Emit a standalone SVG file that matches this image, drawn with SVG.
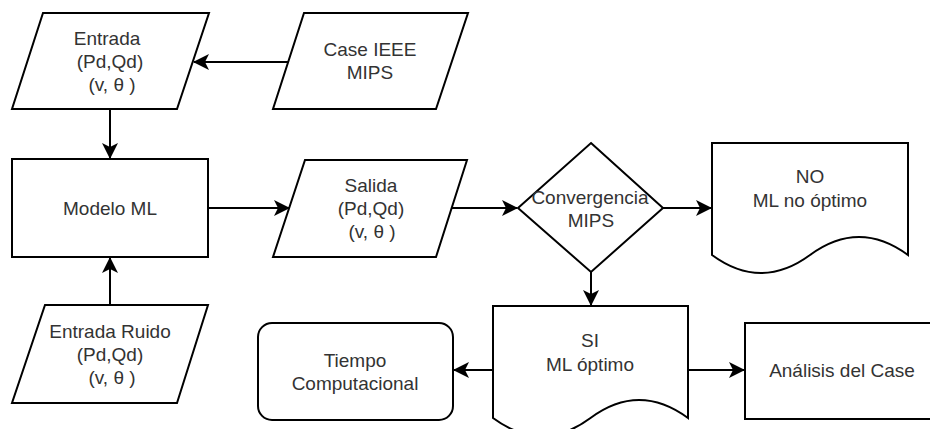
<svg xmlns="http://www.w3.org/2000/svg" width="930" height="429" viewBox="0 0 930 429">
  <style>
    .shape { fill: #ffffff; stroke: #000000; stroke-width: 2; }
    .edge { fill: none; stroke: #000000; stroke-width: 2; }
    text { font-family: "Liberation Sans", Arial, sans-serif; font-size: 19px; fill: #333333; text-anchor: middle; }
  </style>
  <defs>
    <marker id="arrow" markerUnits="userSpaceOnUse" viewBox="0 0 16 16" markerWidth="16" markerHeight="16" refX="15" refY="8" orient="auto">
      <path d="M0,0 L16,8 L0,16 L4,8 Z" fill="#000000"/>
    </marker>
  </defs>

  <rect width="930" height="429" fill="#ffffff"/>

  <!-- connectors -->
  <g id="connectors">
    <line class="edge" x1="288" y1="62" x2="194" y2="62" marker-end="url(#arrow)"/>
    <line class="edge" x1="110" y1="109" x2="110" y2="158" marker-end="url(#arrow)"/>
    <line class="edge" x1="110" y1="305" x2="110" y2="258" marker-end="url(#arrow)"/>
    <line class="edge" x1="208" y1="208" x2="289" y2="208" marker-end="url(#arrow)"/>
    <line class="edge" x1="452" y1="208" x2="517" y2="208" marker-end="url(#arrow)"/>
    <line class="edge" x1="663" y1="208" x2="711" y2="208" marker-end="url(#arrow)"/>
    <line class="edge" x1="591" y1="272" x2="591" y2="305" marker-end="url(#arrow)"/>
    <line class="edge" x1="493" y1="370" x2="454" y2="370" marker-end="url(#arrow)"/>
    <line class="edge" x1="688" y1="370" x2="744" y2="370" marker-end="url(#arrow)"/>
  </g>

  <!-- input: Entrada -->
  <g id="entrada">
    <polygon class="shape" points="43,13 209,13 177,109 12,109"/>
    <text x="107" y="45">Entrada</text>
    <text x="110" y="68">(Pd,Qd)</text>
    <text x="112" y="91">(v, θ )</text>
  </g>

  <!-- input: Case IEEE -->
  <g id="case-ieee">
    <polygon class="shape" points="304,13 468,13 436,109 273,109"/>
    <text x="370" y="56">Case IEEE</text>
    <text x="370" y="79">MIPS</text>
  </g>

  <!-- ML model -->
  <g id="modelo-ml">
    <rect class="shape" x="12" y="159" width="196" height="98"/>
    <text x="110" y="215">Modelo ML</text>
  </g>

  <!-- output: Salida -->
  <g id="salida">
    <polygon class="shape" points="305,160 467,160 436,257 273,257"/>
    <text x="371" y="192">Salida</text>
    <text x="371" y="215">(Pd,Qd)</text>
    <text x="372" y="238">(v, θ )</text>
  </g>

  <!-- decision: convergence -->
  <g id="convergencia">
    <polygon class="shape" points="591,143 663,208 591,272 518,208"/>
    <text x="590" y="204">Convergencia</text>
    <text x="591" y="227">MIPS</text>
  </g>

  <!-- document: NO -->
  <g id="no-optimo">
    <path class="shape" d="M712,143 L908,143 L908,255 Q859,219 810,255 Q761,291 712,255 Z"/>
    <text x="810" y="183">NO</text>
    <text x="810" y="207">ML no óptimo</text>
  </g>

  <!-- noisy input -->
  <g id="entrada-ruido">
    <polygon class="shape" points="45,305 208,305 177,403 12,403"/>
    <text x="110" y="338">Entrada Ruido</text>
    <text x="110" y="361">(Pd,Qd)</text>
    <text x="112" y="384">(v, θ )</text>
  </g>

  <!-- document: SI -->
  <g id="si-optimo">
    <path class="shape" d="M493,306 L688,306 L688,418 Q639,382 590.5,418 Q542,454 493,418 Z"/>
    <text x="590" y="347">SI</text>
    <text x="590" y="371">ML óptimo</text>
  </g>

  <!-- computational time -->
  <g id="tiempo">
    <rect class="shape" x="258" y="323" width="195" height="97" rx="14" ry="14"/>
    <text x="355" y="367">Tiempo</text>
    <text x="355" y="390">Computacional</text>
  </g>

  <!-- case analysis -->
  <g id="analisis">
    <rect class="shape" x="745" y="323" width="196" height="96"/>
    <text x="842" y="377">Análisis del Case</text>
  </g>
</svg>
